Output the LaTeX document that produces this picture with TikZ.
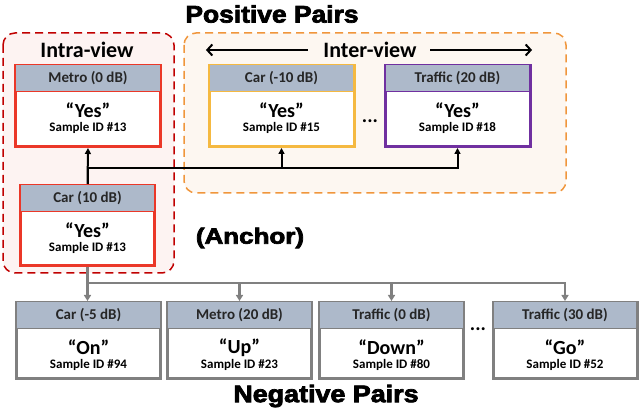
\documentclass[tikz,border=0pt]{standalone}
\usepackage{fontspec}
\setmainfont{Carlito}
\newfontfamily\heavyfont{Liberation Sans}[FakeBold=3]
\usetikzlibrary{arrows.meta,positioning,calc}
\definecolor{intra}{RGB}{192,0,0}
\definecolor{inter}{RGB}{240,150,60}
\definecolor{redbox}{RGB}{235,55,40}
\definecolor{goldbox}{RGB}{245,185,65}
\definecolor{purplebox}{RGB}{112,48,160}
\definecolor{graybox}{RGB}{128,128,128}
\definecolor{headfill}{RGB}{173,185,202}
\definecolor{intrafill}{RGB}{253,243,242}
\definecolor{interfill}{RGB}{253,247,241}

\tikzset{
  samplebox/.style={draw, line width=3pt, inner sep=0pt, fill=white},
  headbar/.style={draw, line width=1.5pt, fill=headfill, inner sep=0pt, minimum height=27pt,
    font=\bfseries\fontsize{15}{15}\selectfont, text=black!85},
  wordtxt/.style={font=\bfseries\fontsize{20}{20}\selectfont},
  idtxt/.style={font=\bfseries\fontsize{13}{13}\selectfont},
  bigtitle/.style={font=\heavyfont\bfseries\fontsize{24}{24}\selectfont},
  viewtxt/.style={font=\bfseries\fontsize{22}{22}\selectfont},
  group/.style={line width=1.5pt, rounded corners=12pt, dash pattern=on 8pt off 5pt},
  posline/.style={line width=2pt, -{Triangle[length=6pt,width=6pt]}},
  negline/.style={draw=graybox, line width=2.5pt, -{Triangle[length=6pt,width=7pt]}},
  viewarrow/.style={line width=2pt, -{Straight Barb[length=5pt,width=11pt]}}
}

% #1 name, #2 centre, #3 colour, #4 width, #5 height, #6 header, #7 word, #8 id
\newcommand{\sample}[8]{%
  \node[samplebox, draw=#3, minimum width=#4, minimum height=#5] (#1) at (#2) {};
  \node[headbar, draw=#3, minimum width=#4, anchor=north] (#1-head) at (#1.north) {#6};
  \node[wordtxt] (#1-word) at ($(#1-head.south)+(0,18)$) {#7};
  \node[idtxt] (#1-id) at ($(#1-head.south)+(0,35)$) {#8};
}

\begin{document}
\begin{tikzpicture}[x=1pt,y=-1pt]
  \useasboundingbox (0,0) rectangle (640,411);

  % groups
  \draw[group, draw=intra, fill=intrafill] (3,33) rectangle (174,273);
  \draw[group, draw=inter, fill=interfill] (184,33) rectangle (566,193);

  \node[bigtitle] (postitle) at (272,14) {\scalebox{1.1}[1]{Positive Pairs}};
  \node[bigtitle] (negtitle) at (326,396) {\scalebox{1.12}[1]{Negative Pairs}};
  \node[bigtitle, font=\heavyfont\bfseries\fontsize{22}{22}\selectfont] (anchortxt) at (250,238) {\scalebox{1.18}[1]{(Anchor)}};

  \node[viewtxt] (intralbl) at (87,50) {Intra-view};
  \node[viewtxt] (interlbl) at (370,50) {Inter-view};
  \draw[viewarrow] ([xshift=-12pt]interlbl.west) -- ++(-102,0);
  \draw[viewarrow] ([xshift=10pt]interlbl.east) -- ++(102,0);

  % positive pairs
  \sample{metro}{88,106}{redbox}{145pt}{81pt}{Metro (0 dB)}{“Yes”}{Sample ID \#13}
  \sample{carp}{281.5,106}{goldbox}{145pt}{81pt}{Car (-10 dB)}{“Yes”}{Sample ID \#15}
  \sample{traffic}{457.5,106}{purplebox}{145pt}{81pt}{Traffic (20 dB)}{“Yes”}{Sample ID \#18}
  \node[wordtxt] (posdots) at (370,121) {...};

  % anchor
  \sample{anchor}{87.5,225.5}{redbox}{134pt}{80pt}{Car (10 dB)}{“Yes”}{Sample ID \#13}

  % negative pairs
  \sample{neg1}{88.5,340.5}{graybox}{144pt}{76pt}{Car (-5 dB)}{“On”}{Sample ID \#94}
  \sample{neg2}{239.5,340.5}{graybox}{144pt}{76pt}{Metro (20 dB)}{“Up”}{Sample ID \#23}
  \sample{neg3}{391.5,340.5}{graybox}{144pt}{76pt}{Traffic (0 dB)}{“Down”}{Sample ID \#80}
  \sample{neg4}{565,340.5}{graybox}{144pt}{76pt}{Traffic (30 dB)}{“Go”}{Sample ID \#52}
  \node[wordtxt] (negdots) at (478,329) {...};

  % connectors
  \draw[posline] (anchor.north) -- (metro.south);
  \draw[posline] (anchor.north) -- ++(0,-16) -| (carp.south);
  \draw[posline] (anchor.north) -- ++(0,-16) -| (traffic.south);

  \draw[negline] (anchor.south) -- (anchor.south |- neg1.north);
  \draw[negline] (anchor.south) -- ++(0,16) -| (neg2.north);
  \draw[negline] (anchor.south) -- ++(0,16) -| (neg3.north);
  \draw[negline] (anchor.south) -- ++(0,16) -| (neg4.north);
\end{tikzpicture}
\end{document}
